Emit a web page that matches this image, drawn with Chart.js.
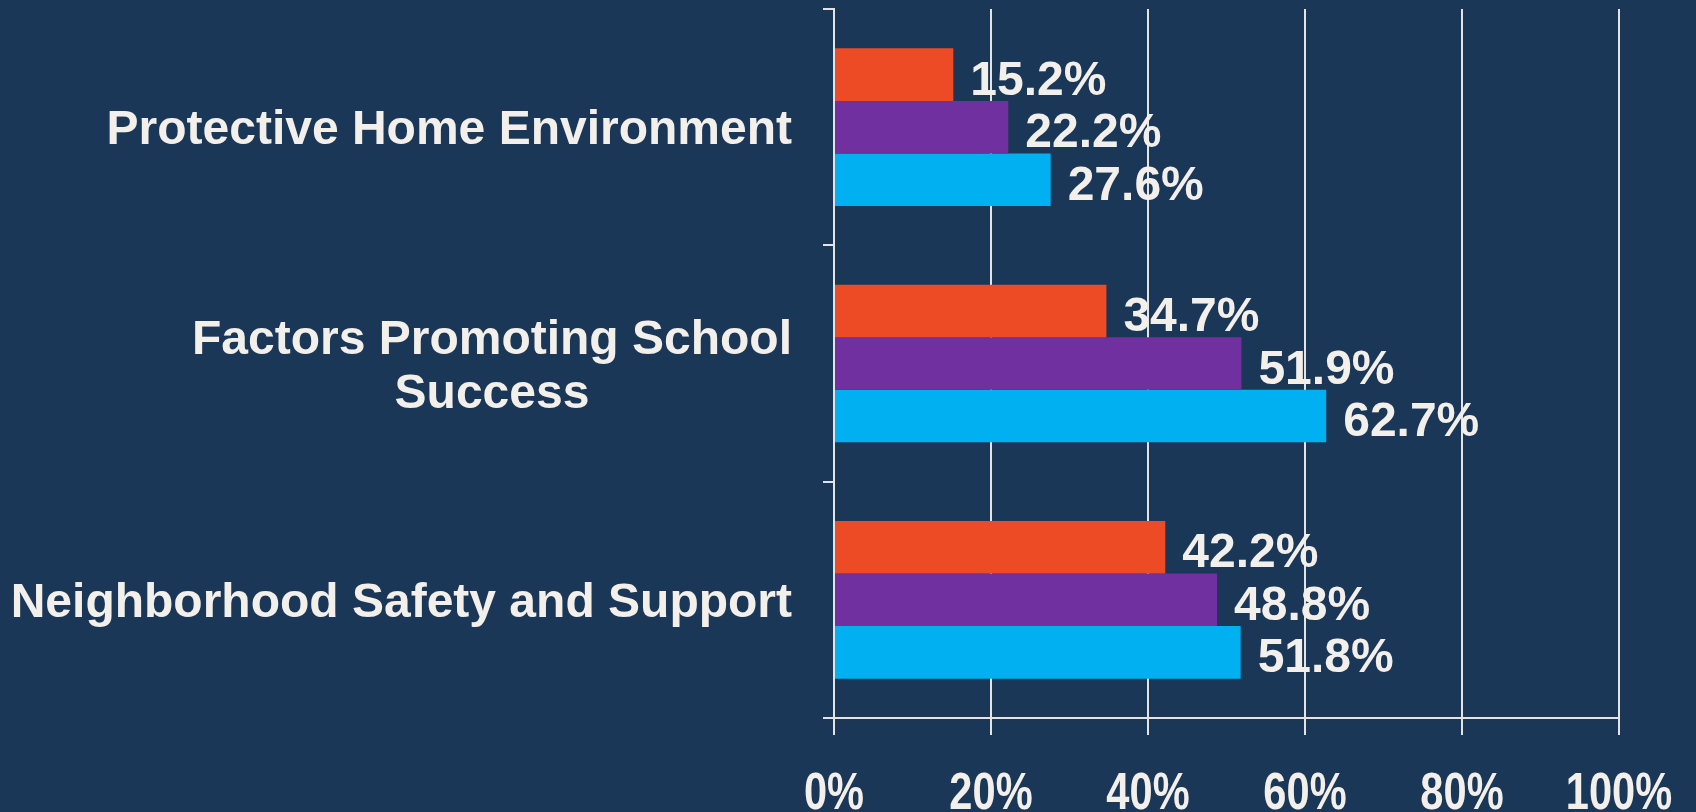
<!DOCTYPE html>
<html>
<head>
<meta charset="utf-8">
<script src="https://cdn.jsdelivr.net/npm/chart.js@4.4.1/dist/chart.umd.min.js"></script>
<style>
  html, body { margin: 0; padding: 0; background: #1b3757; }
  #wrap { width: 1696px; height: 812px; position: relative; }
</style>
</head>
<body>
<div id="wrap"><canvas id="myChart"></canvas></div>
<script>
const categories = [
  ['Protective Home Environment'],
  ['Factors Promoting School', 'Success'],
  ['Neighborhood Safety and Support']
];
const seriesNames = ['Series 1', 'Series 2', 'Series 3'];
const orangeValues = [15.2, 34.7, 42.2];
const purpleValues = [22.2, 51.9, 48.8];
const blueValues = [27.6, 62.7, 51.8];
const xTicks = [0, 20, 40, 60, 80, 100];

const TEXT = '#f3f0eb';
const LINE = '#e4e4e4';
const labelFont = 'bold 48px "Liberation Sans", Arial, sans-serif';

// category names: centred block, right edge just left of the axis
const categoryLabels = {
  id: 'categoryLabels',
  afterDraw(chart) {
    const { ctx, scales: { y } } = chart;
    const right = y.right - 42;
    ctx.save();
    ctx.font = labelFont;
    ctx.fillStyle = TEXT;
    ctx.textAlign = 'center';
    ctx.textBaseline = 'alphabetic';
    categories.forEach((lines, i) => {
      const cy = y.getPixelForValue(i);
      const w = Math.max(...lines.map(l => ctx.measureText(l).width));
      const cx = right - w / 2;
      const lh = 54;
      const top = cy - (lines.length - 1) * lh / 2;
      lines.forEach((l, j) => ctx.fillText(l, cx, top + j * lh + 17));
    });
    ctx.restore();
  }
};

// narrow percent labels under the x axis
const xTickLabels = {
  id: 'xTickLabels',
  afterDraw(chart) {
    const { ctx, scales: { x } } = chart;
    ctx.save();
    ctx.font = 'bold 52px "Liberation Sans", Arial, sans-serif';
    ctx.fillStyle = TEXT;
    ctx.textAlign = 'center';
    ctx.textBaseline = 'alphabetic';
    xTicks.forEach(v => {
      ctx.save();
      ctx.translate(x.getPixelForValue(v), x.bottom - 3);
      ctx.scale(0.8, 1);
      ctx.fillText(v + '%', 0, 0);
      ctx.restore();
    });
    ctx.restore();
  }
};

// value labels after each bar end
const valueLabels = {
  id: 'valueLabels',
  afterDatasetsDraw(chart) {
    const { ctx } = chart;
    ctx.save();
    ctx.font = labelFont;
    ctx.fillStyle = TEXT;
    ctx.textAlign = 'left';
    ctx.textBaseline = 'alphabetic';
    chart.data.datasets.forEach((ds, di) => {
      chart.getDatasetMeta(di).data.forEach((bar, i) => {
        ctx.fillText(ds.data[i].toFixed(1) + '%', bar.x + 17, bar.y + 20);
      });
    });
    ctx.restore();
  }
};

const ctx = document.getElementById('myChart').getContext('2d');
new Chart(ctx, {
  type: 'bar',
  data: {
    labels: categories.map(c => c.join(' ')),
    datasets: [
      { label: seriesNames[0], data: orangeValues, backgroundColor: '#ec4b25' },
      { label: seriesNames[1], data: purpleValues, backgroundColor: '#7030a0' },
      { label: seriesNames[2], data: blueValues, backgroundColor: '#00b0f0' }
    ]
  },
  options: {
    indexAxis: 'y',
    responsive: true,
    maintainAspectRatio: false,
    animation: false,
    categoryPercentage: 0.667,
    barPercentage: 1,
    layout: { padding: { top: 9, right: 77, left: 0, bottom: 0 } },
    plugins: {
      legend: { display: false },
      tooltip: { enabled: false }
    },
    scales: {
      x: {
        min: 0,
        max: 100,
        afterBuildTicks: s => { s.ticks = xTicks.map(v => ({ value: v })); },
        afterFit: s => { s.height = 94; },
        grid: { color: LINE, lineWidth: 2, tickLength: 17 },
        border: { color: LINE, width: 2 },
        ticks: { display: false }
      },
      y: {
        afterFit: s => { s.width = 834; },
        grid: { drawOnChartArea: false, color: LINE, lineWidth: 2, tickLength: 11, offset: true },
        border: { color: LINE, width: 2 },
        ticks: { display: false }
      }
    }
  },
  plugins: [categoryLabels, valueLabels, xTickLabels]
});
</script>
</body>
</html>
